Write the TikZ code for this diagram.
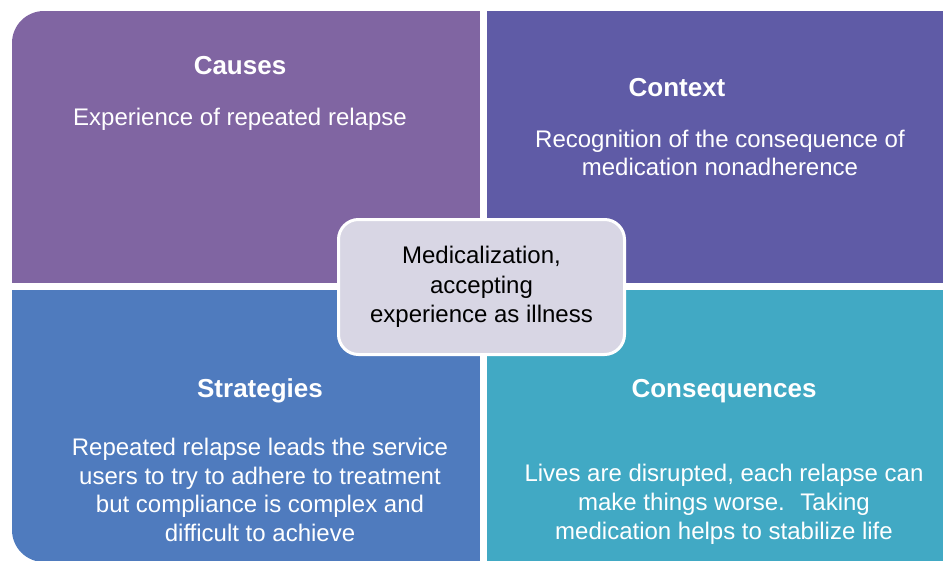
\documentclass[tikz,border=0pt]{standalone}
\usepackage{fontspec}
\setmainfont{Liberation Sans}

\definecolor{causecolor}{RGB}{128,101,162}
\definecolor{contextcolor}{RGB}{95,91,166}
\definecolor{strategycolor}{RGB}{79,123,190}
\definecolor{consequencecolor}{RGB}{65,169,196}
\definecolor{centercolor}{RGB}{216,214,228}

\begin{document}
\begin{tikzpicture}[x=1pt, y=-1pt,
  title/.style = {text=white, inner sep=0pt, font=\fontsize{26}{31}\selectfont\bfseries},
  body/.style = {text=white, inner sep=0pt, align=center, font=\fontsize{24}{28.8}\selectfont},
  main/.style = {draw=white, line width=3pt, fill=centercolor, rounded corners=20pt, minimum width=286pt, minimum height=135pt, inner sep=0pt, align=center, font=\fontsize{24}{29.4}\selectfont}]
	\useasboundingbox (0,0) rectangle (943,560);
	\clip (0,0) rectangle (943,560);

	% four quarters, outer corners rounded
	\begin{scope}
		\clip[rounded corners=32pt] (12,11) rectangle (975,562);
		\fill[causecolor] (12,11) rectangle (480,283);
		\fill[contextcolor] (487,11) rectangle (975,283);
		\fill[strategycolor] (12,290) rectangle (480,562);
		\fill[consequencecolor] (487,290) rectangle (975,562);
	\end{scope}

	\node[title] (Causes) at (240,66) {Causes};
	\node[body] (CausesText) [below of=Causes, node distance=53pt] {Experience of repeated relapse};

	\node[title] (Context) at (677,88) {Context};
	\node[body] (ContextText) [below of=Context, node distance=65pt, xshift=43pt] {Recognition of the consequence of\\medication nonadherence};

	\node[title] (Strategies) at (260,391) {Strategies};
	\node[body] (StrategiesText) [below of=Strategies, node distance=99pt] {Repeated relapse leads the service\\users to try to adhere to treatment\\but compliance is complex and\\difficult to achieve};

	\node[title] (Consequences) at (724,391) {Consequences};
	\node[body] (ConsequencesText) [below of=Consequences, node distance=113pt] {Lives are disrupted, each relapse can\\make things worse.~ Taking\\medication helps to stabilize life};

	\node[main] (Medicalization) at (481.5,287) {Medicalization,\\accepting\\experience as illness};
\end{tikzpicture}
\end{document}
